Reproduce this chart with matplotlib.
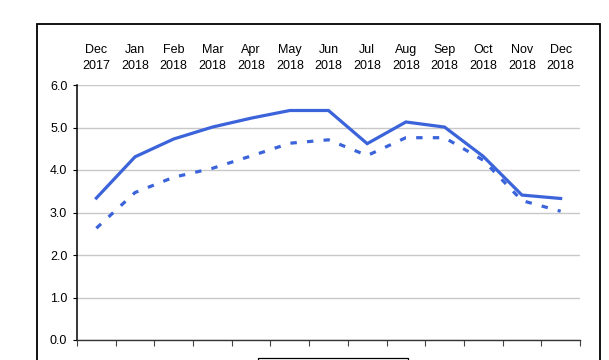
import matplotlib
matplotlib.use("Agg")
import matplotlib.pyplot as plt
from matplotlib.patches import Rectangle

months = ["Dec", "Jan", "Feb", "Mar", "Apr", "May", "Jun", "Jul", "Aug", "Sep", "Oct", "Nov", "Dec"]
years = ["2017"] + ["2018"] * 12
solid_values = [3.34, 4.31, 4.73, 5.01, 5.22, 5.40, 5.40, 4.62, 5.13, 5.01, 4.32, 3.41, 3.33]
dashed_values = [2.63, 3.47, 3.83, 4.04, 4.33, 4.63, 4.71, 4.34, 4.76, 4.76, 4.23, 3.28, 3.03]
yticks = [0.0, 1.0, 2.0, 3.0, 4.0, 5.0, 6.0]

plt.rcParams['font.family'] = ['Liberation Sans', 'DejaVu Sans']

W, H = 609, 360
fig = plt.figure(figsize=(W / 100, H / 100), dpi=100)
fig.patch.set_facecolor('white')

# outer frame (cut off at bottom)
fig.add_artist(Rectangle((37 / W, -0.05), (600 - 37) / W, 1.05 - 24 / H + 0.0,
                         transform=fig.transFigure, fill=False, edgecolor='black',
                         linewidth=1.3, clip_on=False))
# legend frame (mostly cut off)
fig.add_artist(Rectangle((258 / W, -0.05), (408 - 258) / W, 0.05 + 2 / H,
                         transform=fig.transFigure, fill=False, edgecolor='black',
                         linewidth=0.9, clip_on=False))

ax = fig.add_axes([77 / W, 20 / H, (580 - 77) / W, 255 / H])
x = list(range(len(months)))
color = '#3B63DA'
ax.plot(x, solid_values, color=color, linewidth=2.3, solid_joinstyle='miter', zorder=3)
ax.plot(x, dashed_values, color=color, linewidth=2.3, linestyle=(0, (2.0, 3.2)), zorder=3)

ax.set_xlim(-0.5, len(months) - 0.5)
ax.set_ylim(0, 6)
ax.set_yticks(yticks)
ax.set_yticklabels([f"{v:.1f}" for v in yticks], fontsize=9)
ax.yaxis.grid(True, color='#c8c8c8', linewidth=1.0)
ax.set_axisbelow(True)

ax.set_xticks([i - 0.5 for i in range(len(months) + 1)])
ax.set_xticklabels([])
ax.tick_params(axis='x', direction='out', length=4, width=0.8, color='#444444')
ax.tick_params(axis='y', direction='out', length=3, width=0.8, pad=4, color='black')

for sp in ['top', 'right']:
    ax.spines[sp].set_visible(False)
ax.spines['left'].set_linewidth(1.1)
ax.spines['bottom'].set_linewidth(1.0)
ax.spines['bottom'].set_color('#333333')

for i, (m, yr) in enumerate(zip(months, years)):
    ax.text(i, 1.0 + 13 / 255, f"{m}\n{yr}", transform=ax.get_xaxis_transform(),
            ha='center', va='bottom', fontsize=9, linespacing=1.45)

fig.savefig("out.png", dpi=100)
